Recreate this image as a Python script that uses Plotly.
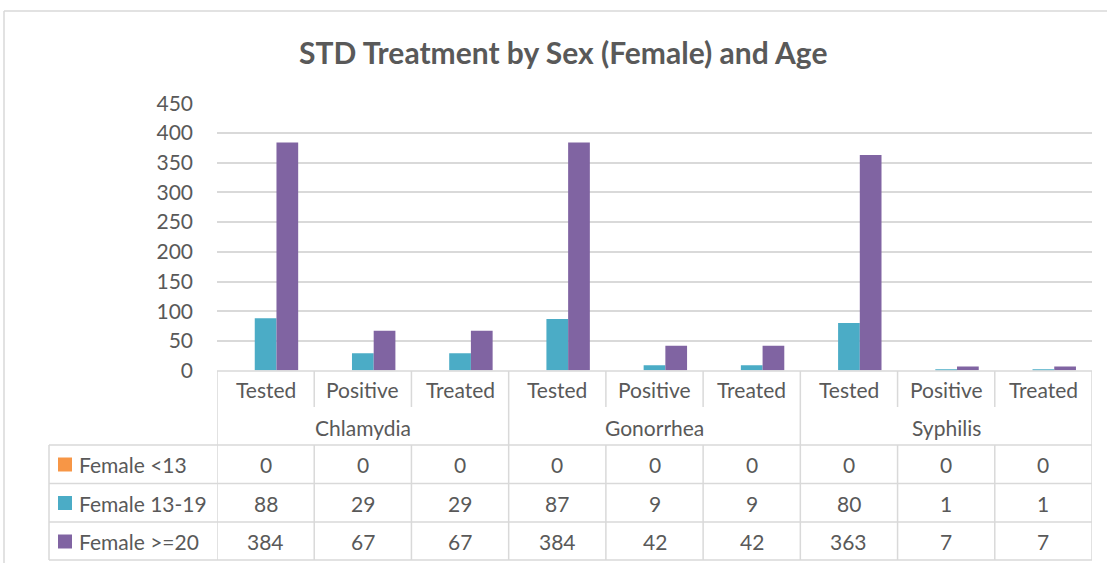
import plotly.graph_objects as go

# ---- data ----
diseases = ["Chlamydia", "Gonorrhea", "Syphilis"]
measures = ["Tested", "Positive", "Treated"]
series_names = ["Female <13", "Female 13-19", "Female >=20"]
female_lt13 = [0, 0, 0, 0, 0, 0, 0, 0, 0]
female_13_19 = [88, 29, 29, 87, 9, 9, 80, 1, 1]
female_ge20 = [384, 67, 67, 384, 42, 42, 363, 7, 7]
colors = ["#F79646", "#4BACC6", "#8064A2"]
y_ticks = [0, 50, 100, 150, 200, 250, 300, 350, 400, 450]

W, H = 1107, 563
FONT = "Lato"
TXT = "#595959"
GRID = "#D9D9D9"
FS = 21

def px(x):
    return x / W

def py(y):
    return 1 - y / H

series = [female_lt13, female_13_19, female_ge20]
ncat = len(diseases) * len(measures)
xs = list(range(ncat))

fig = go.Figure()
for name, vals, col in zip(series_names, series, colors):
    fig.add_trace(go.Bar(x=xs, y=vals, name=name, marker=dict(color=col, line=dict(width=0)),
                         showlegend=False))

shapes = []
annotations = []
line = dict(color=GRID, width=1.5)

# outer chart border
shapes.append(dict(type="line", xref="paper", yref="paper", x0=px(4), x1=1, y0=py(11), y1=py(11), line=line))
shapes.append(dict(type="line", xref="paper", yref="paper", x0=px(4), x1=px(4), y0=py(11), y1=0, line=line))

# table horizontal lines
shapes.append(dict(type="line", xref="x", yref="paper", x0=-0.5, x1=ncat - 0.5, y0=py(371), y1=py(371), line=line))
for yy in [445, 483.5, 522, 560]:
    shapes.append(dict(type="line", xref="paper", yref="paper", x0=px(49), x1=px(1092), y0=py(yy), y1=py(yy), line=line))
# legend column left border
shapes.append(dict(type="line", xref="paper", yref="paper", x0=px(49), x1=px(49), y0=py(445), y1=py(560), line=line))

# table vertical lines
for i in range(ncat + 1):
    xv = i - 0.5
    if i % len(measures) == 0:
        shapes.append(dict(type="line", xref="x", yref="paper", x0=xv, x1=xv, y0=py(371), y1=py(560), line=line))
    else:
        shapes.append(dict(type="line", xref="x", yref="paper", x0=xv, x1=xv, y0=py(371), y1=py(407), line=line))
        shapes.append(dict(type="line", xref="x", yref="paper", x0=xv, x1=xv, y0=py(445), y1=py(560), line=line))

# category labels
for i in xs:
    annotations.append(dict(x=i, y=py(389), xref="x", yref="paper", text=measures[i % 3], showarrow=False,
                            font=dict(family=FONT, size=FS, color=TXT), xanchor="center", yanchor="middle"))
for g, d in enumerate(diseases):
    annotations.append(dict(x=g * 3 + 1, y=py(427), xref="x", yref="paper", text=d, showarrow=False,
                            font=dict(family=FONT, size=FS, color=TXT), xanchor="center", yanchor="middle"))

# data rows
row_y = [464.5, 503, 541.5]
for r, (name, vals, col) in enumerate(zip(series_names, series, colors)):
    yc = row_y[r]
    shapes.append(dict(type="rect", xref="paper", yref="paper", x0=px(58), x1=px(72), y0=py(yc - 7), y1=py(yc + 7),
                       fillcolor=col, line=dict(width=0)))
    annotations.append(dict(x=px(77), y=py(yc), xref="paper", yref="paper", text=name, showarrow=False,
                            font=dict(family=FONT, size=FS, color=TXT), xanchor="left", yanchor="middle"))
    for i, v in enumerate(vals):
        annotations.append(dict(x=i, y=py(yc), xref="x", yref="paper", text=str(v), showarrow=False,
                                font=dict(family=FONT, size=FS, color=TXT), xanchor="center", yanchor="middle"))

# title
annotations.append(dict(x=px(563), y=py(52), xref="paper", yref="paper",
                        text="<b>STD Treatment by Sex (Female) and Age</b>", showarrow=False,
                        font=dict(family=FONT, size=30, color=TXT), xanchor="center", yanchor="middle"))

fig.update_layout(
    width=W, height=H,
    margin=dict(l=0, r=0, t=0, b=0, pad=0),
    paper_bgcolor="white", plot_bgcolor="white",
    barmode="group", bargap=0.33, bargroupgap=0,
    shapes=shapes, annotations=annotations,
    xaxis=dict(domain=[px(217), px(1092)], range=[-0.5, ncat - 0.5], showticklabels=False,
               showgrid=False, zeroline=False, showline=False, ticks="", automargin=False),
    yaxis=dict(domain=[py(370.6), py(103.3)], range=[0, 450], tickvals=y_ticks,
               showgrid=True, gridcolor=GRID, gridwidth=1.5, zeroline=False, showline=False,
               tickfont=dict(family=FONT, size=FS, color=TXT), ticklabelstandoff=23, automargin=False),
    showlegend=False,
)

fig.write_html("out.html", config={"displayModeBar": False},
               post_script="document.body.style.margin='0px';")
